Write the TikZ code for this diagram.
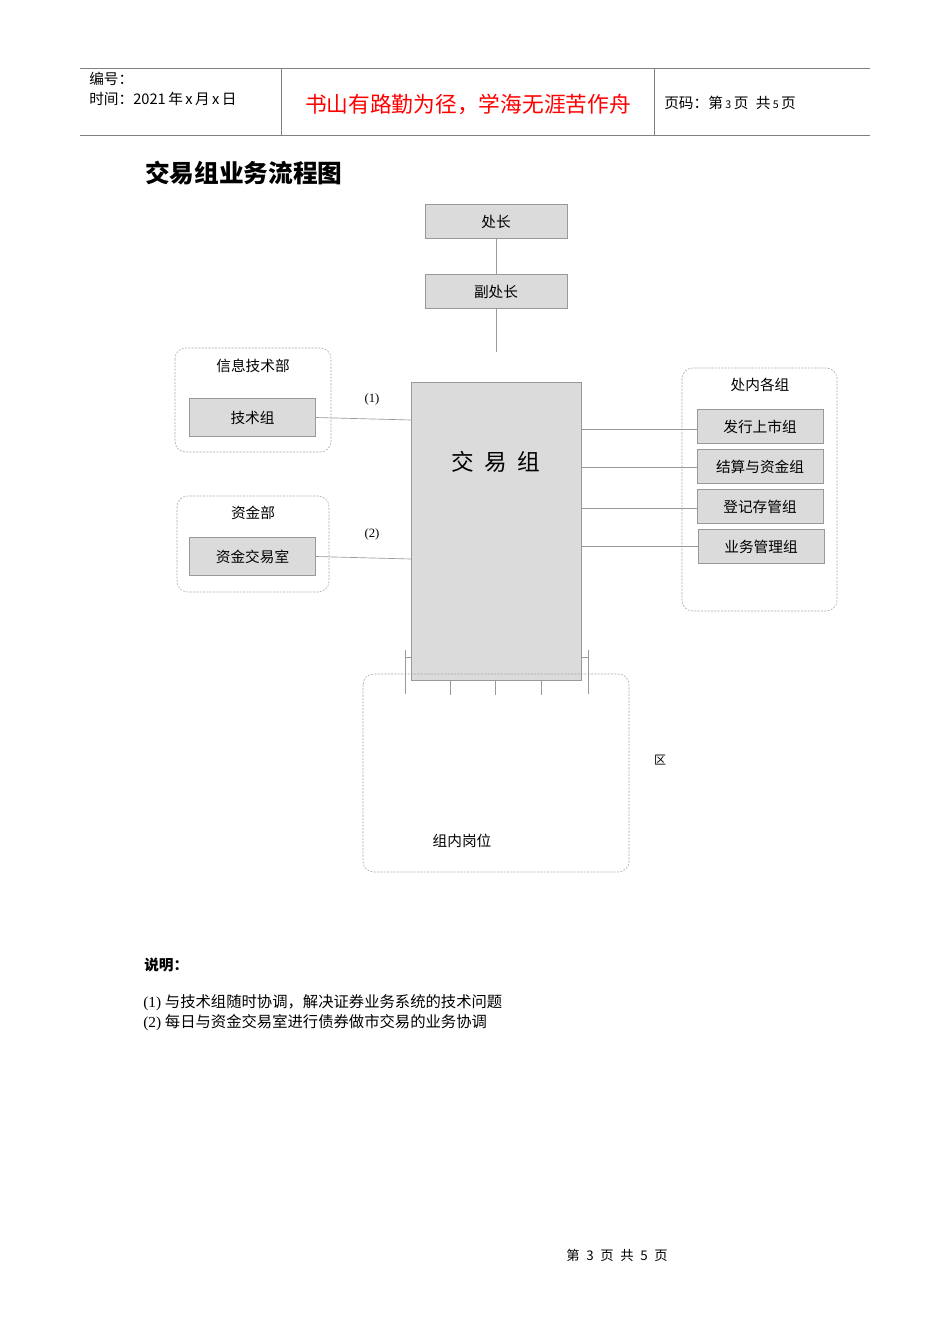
\documentclass[tikz,border=0pt]{standalone}
\usepackage{fontspec}
\setmainfont{Liberation Serif}
\newfontfamily\cjk{Noto Sans CJK SC}
\begin{document}
\begin{tikzpicture}[x=0.75pt,y=-0.75pt,
  gbox/.style={draw=gray!80,fill=gray!28,line width=0.6pt},
  grp/.style={draw=gray!70,dash pattern=on 1.5pt off 1pt,rounded corners=8pt,line width=0.4pt},
  ln/.style={draw=gray!80,line width=0.5pt},
  lbl/.style={font=\cjk\fontsize{11}{13}\selectfont,inner sep=0pt}]
\useasboundingbox (0,0) rectangle (950,1344);
% header
\draw[gray,line width=0.6pt] (80,68) -- (870,68) (80,135) -- (870,135) (281,68) -- (281,135) (654,68) -- (654,135);
\node[lbl,anchor=west] (h1) at (89,79) {编号：};
\node[lbl,anchor=west] (h2) at (89,99) {时间：2021\,年\,x\,月\,x\,日};
\node[anchor=center,inner sep=0pt,text=red,font=\cjk\fontsize{16.3}{18}\selectfont] (h3) at (468,104) {书山有路勤为径，学海无涯苦作舟};
\node[lbl,anchor=west] (h4) at (664,103) {页码：第\,{\footnotesize 3}\,页\enspace 共\,{\footnotesize 5}\,页};
\node[anchor=west,inner sep=0pt,font=\cjk\bfseries\fontsize{18.5}{21}\selectfont] (title) at (145,173) {交易组业务流程图};
% top boxes
\draw[ln] (496,239) -- (496,352);
\node[gbox,minimum width=106.5pt,minimum height=26pt,lbl] (cz) at (496,221.5) {处长};
\node[gbox,minimum width=106.5pt,minimum height=26pt,lbl] (fcz) at (496,291.5) {副处长};
% main
\node[gbox,minimum width=127.5pt,minimum height=223.5pt] (jy) at (496,531) {};
\node[font=\cjk\fontsize{17}{20}\selectfont] (jyt) at (496,462) {交\ \ 易\ \ 组};
% left groups
\draw[grp] (175,348) rectangle (331,452);
\node[lbl] (xx) at (253,366) {信息技术部};
\node[gbox,minimum width=94pt,minimum height=29pt,lbl] (js) at (252.5,417.5) {技术组};
\draw[grp] (177,496) rectangle (329,592);
\node[lbl] (zj) at (253,513) {资金部};
\node[gbox,minimum width=94pt,minimum height=29pt,lbl] (zjs) at (252.5,556.5) {资金交易室};
\draw[ln] (js.east) -- (411,420);
\draw[ln] (zjs.east) -- (411,559);
\node[font=\fontsize{9.5}{11}\selectfont] (n1) at (372,399) {(1)};
\node[font=\fontsize{9.5}{11}\selectfont] (n2) at (372,534) {(2)};
% right group
\draw[grp] (682,368) rectangle (837,611);
\node[lbl] (cn) at (760,385) {处内各组};
\node[gbox,minimum width=94.5pt,minimum height=26pt,lbl] (r1) at (760,426.5) {发行上市组};
\node[gbox,minimum width=94.5pt,minimum height=26pt,lbl] (r2) at (760,466.5) {结算与资金组};
\node[gbox,minimum width=94.5pt,minimum height=26pt,lbl] (r3) at (760,506.5) {登记存管组};
\node[gbox,minimum width=94.5pt,minimum height=26pt,lbl] (r4) at (761,546.5) {业务管理组};
\draw[ln] (581,429) -- (r1.west|-581,429);
\draw[ln] (581,467) -- (r2.west|-581,467);
\draw[ln] (581,508) -- (r3.west|-581,508);
\draw[ln] (581,546) -- (r4.west|-581,546);
% bottom group
\draw[grp] (363,674) rectangle (629,872);
\node[lbl] (zn) at (462,841) {组内岗位};
\draw[ln] (405,650) -- (405,694) (588,650) -- (588,694) (405,657) -- (411,657) (581,657) -- (588,657)
  (450,680) -- (450,695) (495,680) -- (495,695) (541,680) -- (541,695);
\node[lbl,font=\cjk\fontsize{9}{10}\selectfont] (qu) at (660,760) {区};
% notes
\node[anchor=west,inner sep=0pt,font=\cjk\bfseries\fontsize{11}{13}\selectfont] (sm) at (144,965) {说明：};
\node[anchor=west,inner sep=0pt,font=\fontsize{11.5}{13}\selectfont] (l1) at (143,1003) {(1) {\cjk 与技术组随时协调，解决证券业务系统的技术问题}};
\node[anchor=west,inner sep=0pt,font=\fontsize{11.5}{13}\selectfont] (l2) at (143,1023) {(2) {\cjk 每日与资金交易室进行债券做市交易的业务协调}};
\node[inner sep=0pt,font=\cjk\fontsize{10}{12}\selectfont] (ft) at (617,1255) {第\enspace 3\enspace 页\enspace 共\enspace 5\enspace 页};
\end{tikzpicture}
\end{document}
